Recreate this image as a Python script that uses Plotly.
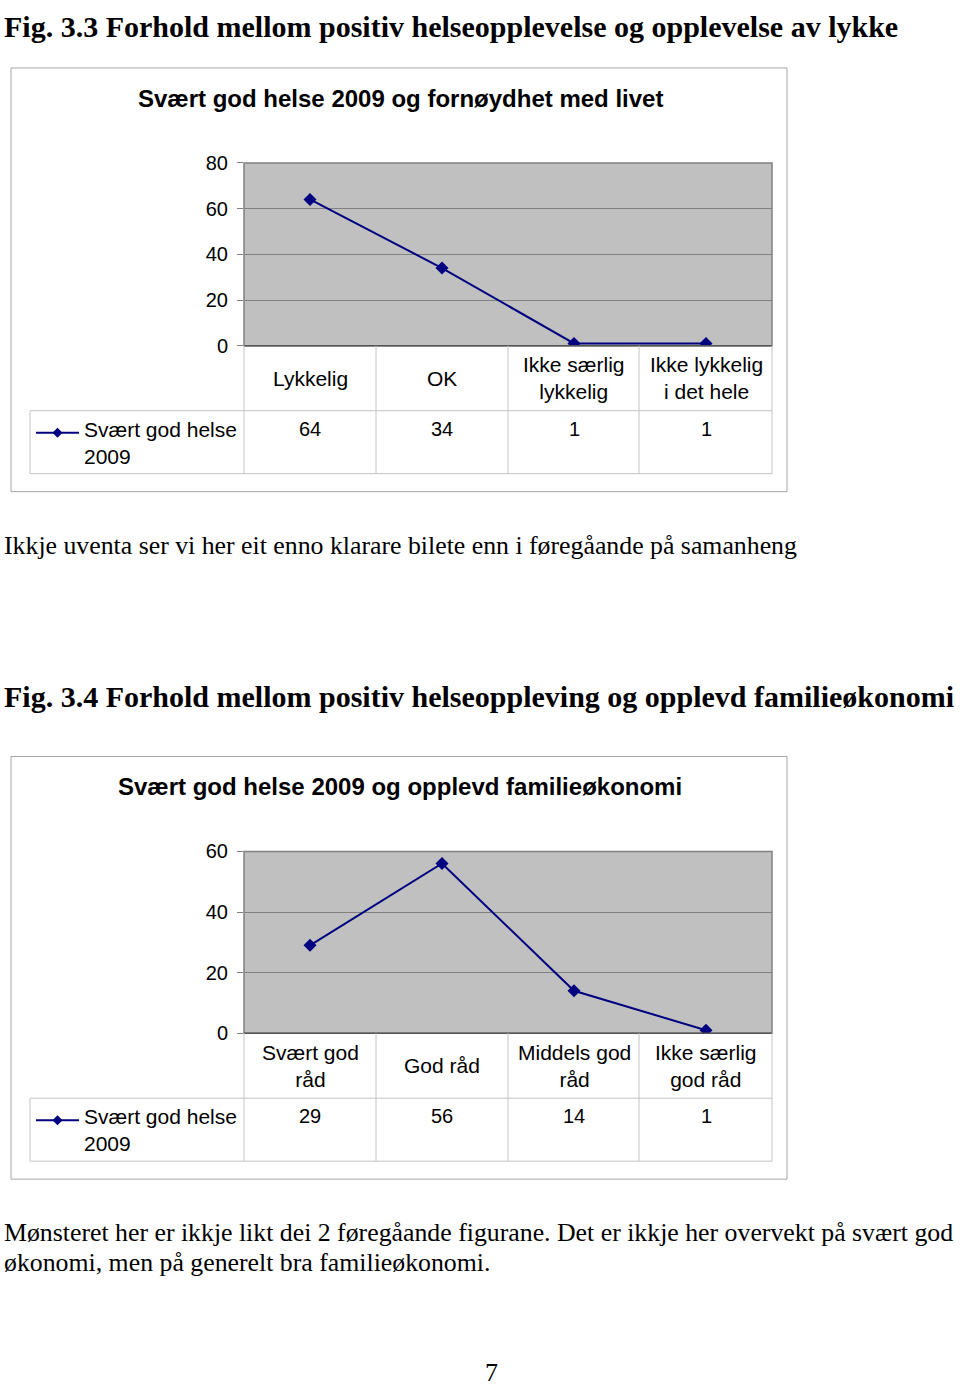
import plotly.graph_objects as go

W, H = 960, 1399

# ---------------- data ----------------
fig1_categories = ["Lykkelig", "OK", "Ikke særlig<br>lykkelig", "Ikke lykkelig<br>i det hele"]
fig1_values = [64, 34, 1, 1]
fig1_yticks = [0, 20, 40, 60, 80]

fig2_categories = ["Svært god<br>råd", "God råd", "Middels god<br>råd", "Ikke særlig<br>god råd"]
fig2_values = [29, 56, 14, 1]
fig2_yticks = [0, 20, 40, 60]

series_name = "Svært god helse<br>2009"

fig1_title = "Svært god helse 2009 og fornøydhet med livet"
fig2_title = "Svært god helse 2009 og opplevd familieøkonomi"

doc_texts = [
    "Fig. 3.3 Forhold mellom positiv helseopplevelse og opplevelse av lykke",
    "Ikkje uventa ser vi her eit enno klarare bilete enn i føregåande på samanheng",
    "Fig. 3.4 Forhold mellom positiv helseoppleving og opplevd familieøkonomi",
    "Mønsteret her er ikkje likt dei 2 føregåande figurane. Det er ikkje her overvekt på svært god",
    "økonomi, men på generelt bra familieøkonomi.",
]
page_number = "7"

# ---------------- layout / style ----------------
doc_y = [26, 545, 696, 1232, 1262]
doc_bold = [True, False, True, False, False]
page_number_y = 1373

SANS = "Liberation Sans, Arial, sans-serif"
SERIF = "Liberation Serif, Times New Roman, serif"
NAVY = "#000080"
GRIDC = "#808080"
TABLEC = "#C4C4C4"
FRAMEC = "#A6A6A6"

# the page photo maps page y to about 10 + 0.985*y; compensate so marks land where intended
Y_OFF, Y_SCALE = 10.0, 0.985


def px(x):
    return x / W


def py(y):
    return 1 - ((y - Y_OFF) / Y_SCALE) / H


fig = go.Figure()
shapes = []
annotations = []

charts = [
    dict(cats=fig1_categories, vals=fig1_values, ticks=fig1_yticks, title=fig1_title,
         frame=(11, 67, 787, 491), plot=(244, 162, 772, 345), title_y=98,
         row1=(345, 410), row2=(410, 473), xa="x", ya="y"),
    dict(cats=fig2_categories, vals=fig2_values, ticks=fig2_yticks, title=fig2_title,
         frame=(11, 756, 787, 1179), plot=(244, 851, 772, 1033), title_y=786,
         row1=(1033, 1098), row2=(1098, 1161), xa="x2", ya="y2"),
]

col_edges = [244, 376, 508, 639, 772]

for i, c in enumerate(charts):
    n = len(c["cats"])
    fig.add_trace(go.Scatter(
        x=list(range(n)), y=c["vals"], mode="lines+markers",
        line=dict(color=NAVY, width=2),
        marker=dict(symbol="diamond", size=10, color=NAVY),
        xaxis=c["xa"], yaxis=c["ya"], showlegend=False, hoverinfo="skip",
    ))
    x0, y0, x1, y1 = c["plot"]
    sfx = "" if i == 0 else "2"
    fig.layout["xaxis" + sfx] = dict(
        domain=[px(x0), px(x1)], range=[-0.5, n - 0.5], anchor="y" + sfx,
        showgrid=False, zeroline=False, showticklabels=False, ticks="",
        showline=False, fixedrange=True,
    )
    fig.layout["yaxis" + sfx] = dict(
        domain=[py(y1), py(y0)], range=[0, c["ticks"][-1]], anchor="x" + sfx,
        tickvals=c["ticks"], ticks="outside", ticklen=6, tickcolor=GRIDC,
        showgrid=True, gridcolor=GRIDC, gridwidth=1, zeroline=False,
        showline=False, ticklabelstandoff=5,
        tickfont=dict(family=SANS, size=20, color="black"), fixedrange=True,
    )
    # outer chart frame
    fx0, fy0, fx1, fy1 = c["frame"]
    shapes.append(dict(type="rect", xref="paper", yref="paper", x0=px(fx0), x1=px(fx1),
                       y0=py(fy1), y1=py(fy0), line=dict(color=FRAMEC, width=1), layer="below"))
    # plot area background and border
    shapes.append(dict(type="rect", xref="paper", yref="paper", x0=px(x0), x1=px(x1),
                       y0=py(y1), y1=py(y0), fillcolor="#C0C0C0",
                       line=dict(color=GRIDC, width=1.5), layer="below"))
    # zero axis line
    shapes.append(dict(type="line", xref="paper", yref="paper", x0=px(x0), x1=px(x1),
                       y0=py(y1), y1=py(y1), line=dict(color="#555555", width=1.5)))
    # data table grid
    r1a, r1b = c["row1"]
    r2a, r2b = c["row2"]
    for xe in col_edges:
        shapes.append(dict(type="line", xref="paper", yref="paper", x0=px(xe), x1=px(xe),
                           y0=py(r2b), y1=py(r1a), line=dict(color=TABLEC, width=1)))
    shapes.append(dict(type="line", xref="paper", yref="paper", x0=px(30), x1=px(30),
                       y0=py(r2b), y1=py(r2a), line=dict(color=TABLEC, width=1)))
    for yy in (r2a, r2b):
        shapes.append(dict(type="line", xref="paper", yref="paper", x0=px(30), x1=px(772),
                           y0=py(yy), y1=py(yy), line=dict(color=TABLEC, width=1)))
    # legend key in table
    ly = r2a + 22
    shapes.append(dict(type="line", xref="paper", yref="paper", x0=px(36), x1=px(79),
                       y0=py(ly), y1=py(ly), line=dict(color=NAVY, width=2)))
    d = 5
    shapes.append(dict(type="path", xref="paper", yref="paper",
                       path=f"M {px(57.5)} {py(ly - d)} L {px(57.5 + d)} {py(ly)} L {px(57.5)} {py(ly + d)} L {px(57.5 - d)} {py(ly)} Z",
                       fillcolor=NAVY, line=dict(color=NAVY, width=0)))
    annotations.append(dict(text=series_name, xref="paper", yref="paper", x=px(82), y=py(r2a + 5),
                            xanchor="left", yanchor="top", showarrow=False, align="left",
                            font=dict(family=SANS, size=21, color="black")))
    # chart title
    annotations.append(dict(text="<b>" + c["title"] + "</b>", xref="paper", yref="paper",
                            x=px(400), y=py(c["title_y"]), xanchor="center", yanchor="middle",
                            showarrow=False, font=dict(family=SANS, size=24, color="black")))
    # category labels and table values
    for k in range(n):
        annotations.append(dict(text=c["cats"][k], xref=c["xa"], yref="paper", x=k,
                                y=py((r1a + r1b) / 2), xanchor="center", yanchor="middle",
                                showarrow=False, align="center",
                                font=dict(family=SANS, size=21, color="black")))
        annotations.append(dict(text=str(c["vals"][k]), xref=c["xa"], yref="paper", x=k,
                                y=py(r2a + 5), xanchor="center", yanchor="top",
                                showarrow=False, font=dict(family=SANS, size=20, color="black")))

# document text
for text, yc, bold in zip(doc_texts, doc_y, doc_bold):
    annotations.append(dict(text=("<b>" + text + "</b>") if bold else text, xref="paper", yref="paper",
                            x=px(2), y=py(yc), xanchor="left", yanchor="middle", showarrow=False,
                            font=dict(family=SERIF, size=30 if bold else 25.8, color="black")))
annotations.append(dict(text=page_number, xref="paper", yref="paper", x=px(492), y=py(page_number_y),
                        xanchor="center", yanchor="middle", showarrow=False,
                        font=dict(family=SERIF, size=26, color="black")))

fig.update_layout(
    width=W, height=H, margin=dict(l=0, r=0, t=0, b=0),
    paper_bgcolor="white", plot_bgcolor="rgba(0,0,0,0)",
    shapes=shapes, annotations=annotations, showlegend=False,
)

fig.write_html("out.html")
